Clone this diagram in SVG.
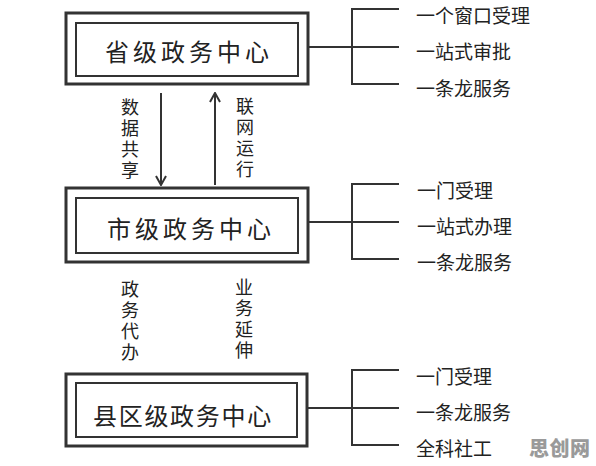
<svg xmlns="http://www.w3.org/2000/svg" width="596" height="466" viewBox="0 0 596 466">
<defs>
<style>
.outer{fill:#fff;stroke:#333;stroke-width:3}
.inner{fill:none;stroke:#333;stroke-width:2}
.ln{fill:none;stroke:#333;stroke-width:2}
.nt{font-family:"Noto Sans CJK SC","Noto Sans CJK JP",sans-serif;font-size:24px;fill:#222;dominant-baseline:central}
.lb{font-family:"Noto Sans CJK SC","Noto Sans CJK JP",sans-serif;font-size:19px;fill:#222;dominant-baseline:central}
.vt{font-family:"Noto Sans CJK SC","Noto Sans CJK JP",sans-serif;font-size:18px;fill:#222;writing-mode:vertical-rl;text-orientation:upright;letter-spacing:3px}
.wm{font-family:"Noto Sans CJK SC",sans-serif;font-size:20px;font-weight:900;fill:#9a9a9a;dominant-baseline:central}
</style>
<marker id="arr" viewBox="0 0 12 12" refX="11" refY="6" markerWidth="12" markerHeight="12" markerUnits="userSpaceOnUse" orient="auto">
<path d="M2,1 L11,6 L2,11" fill="none" stroke="#333" stroke-width="2"/>
</marker>
</defs>
<rect width="596" height="466" fill="#fff"/>
<g id="node-province">
<rect class="outer" x="66" y="13" width="242" height="71"/>
<rect class="inner" x="76" y="23" width="222" height="53"/>
<text class="nt" x="105" y="50" letter-spacing="4">省级政务中心</text>
</g>
<g id="node-city">
<rect class="outer" x="66" y="188" width="242" height="74"/>
<rect class="inner" x="76" y="198" width="222" height="55"/>
<text class="nt" x="107" y="227" letter-spacing="4">市级政务中心</text>
</g>
<g id="node-county">
<rect class="outer" x="66" y="374" width="241" height="72"/>
<rect class="inner" x="76" y="383" width="221" height="54"/>
<text class="nt" x="93" y="414" letter-spacing="1.7">县区级政务中心</text>
</g>
<g id="connectors">
<line class="ln" x1="161" y1="93" x2="161" y2="185" marker-end="url(#arr)"/>
<line class="ln" x1="215" y1="185" x2="215" y2="93" marker-end="url(#arr)"/>
<path class="ln" d="M308,47 H352 M399,9 H352 V84 H399 M352,47 H399"/>
<path class="ln" d="M308,222 H352 M399,184 H352 V259 H399 M352,222 H399"/>
<path class="ln" d="M307,408 H352 M399,370 H352 V445 H399 M352,408 H399"/>
</g>
<g id="edge-labels">
<text class="vt" x="130" y="98">数据共享</text>
<text class="vt" x="245" y="97">联网运行</text>
<text class="vt" x="130" y="280">政务代办</text>
<text class="vt" x="244" y="278">业务延伸</text>
</g>
<g id="labels-province">
<text class="lb" x="416" y="14">一个窗口受理</text>
<text class="lb" x="416" y="50">一站式审批</text>
<text class="lb" x="416" y="87">一条龙服务</text>
</g>
<g id="labels-city">
<text class="lb" x="417" y="189">一门受理</text>
<text class="lb" x="417" y="225">一站式办理</text>
<text class="lb" x="417" y="261">一条龙服务</text>
</g>
<g id="labels-county">
<text class="lb" x="416" y="375">一门受理</text>
<text class="lb" x="416" y="411">一条龙服务</text>
<text class="lb" x="416" y="447">全科社工</text>
</g>
<text class="wm" x="529" y="447" letter-spacing="0.5">思创网</text>
</svg>
